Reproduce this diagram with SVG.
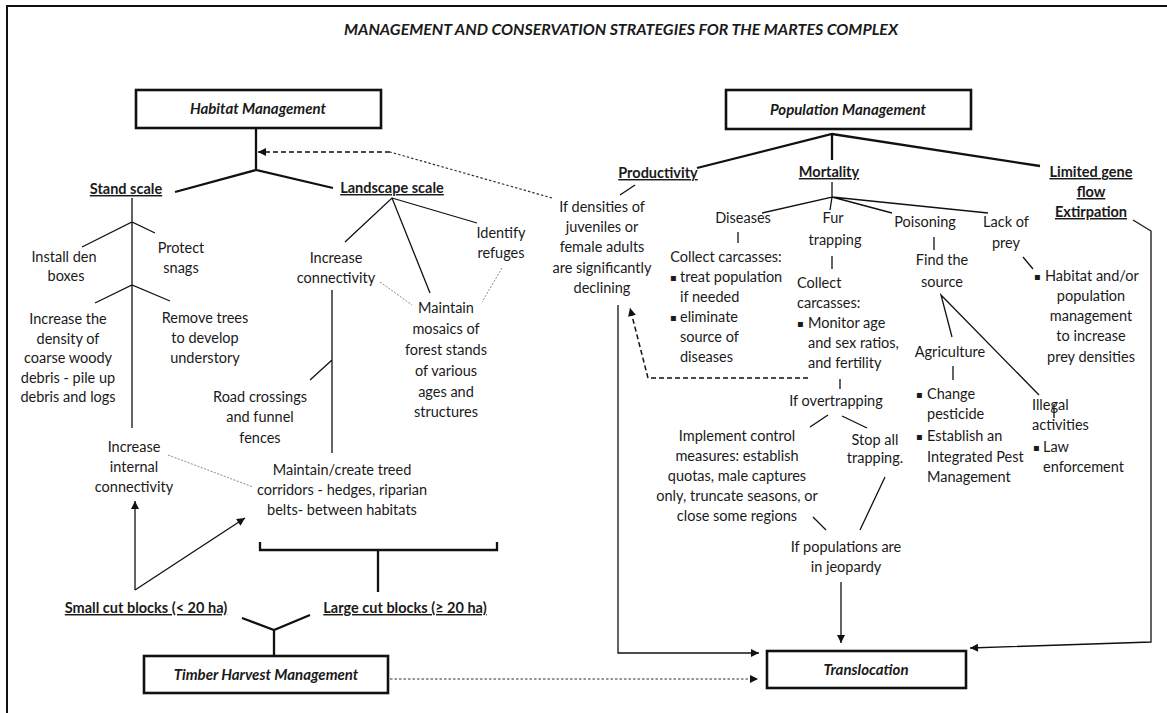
<svg xmlns="http://www.w3.org/2000/svg" width="1167" height="713" viewBox="0 0 1167 713">
  <style>
    text { font-family: Lato, "Liberation Sans", sans-serif; font-size: 14.5px; fill: #1a1a1a; }
    .c { text-anchor: middle; }
    .h { font-weight: bold; text-decoration: underline; }
    .bl { font-family: "DejaVu Sans", sans-serif; font-size: 10px; }
    .bx { font-weight: bold; font-style: italic; font-size: 15px; text-anchor: middle; }
    .title { font-weight: bold; font-style: italic; font-size: 16px; text-anchor: middle; }
    .box { fill: #fff; stroke: #111; stroke-width: 2.6; }
    .ln { stroke: #111; stroke-width: 1.3; fill: none; }
    .tk { stroke: #111; stroke-width: 2.3; fill: none; }
    .dot { stroke: #8a8a8a; stroke-width: 1; stroke-dasharray: 2 1.5; fill: none; }
    .dash { stroke: #111; stroke-width: 1.5; stroke-dasharray: 5 3; fill: none; }
    .fine { stroke: #333; stroke-width: 1.2; stroke-dasharray: 2.5 2; fill: none; }
  </style>
  <defs>
    <marker id="arr" viewBox="0 0 10 10" refX="10" refY="5" markerWidth="9" markerHeight="8" markerUnits="userSpaceOnUse" orient="auto">
      <path d="M0,0 L10,5 L0,10 z" fill="#111"/>
    </marker>
  </defs>

  <rect width="1167" height="713" fill="#fff"/>
  <!-- frame -->
  <path d="M7,713 L7,6 L1167,6" fill="none" stroke="#111" stroke-width="2"/>

  <text class="title" x="621" y="35" textLength="554" lengthAdjust="spacingAndGlyphs">MANAGEMENT AND CONSERVATION STRATEGIES FOR THE MARTES COMPLEX</text>

  <!-- connectors -->
  <g id="connectors">
    <!-- habitat tree -->
    <path class="tk" d="M256,128 L256,170 M175,192 L256,170 L333,188"/>
    <path class="fine" d="M552,198 L390,152"/>
    <path class="dash" d="M390,152 L258,152" marker-end="url(#arr)"/>
    <!-- stand scale -->
    <path class="ln" d="M132,198 L132,428 M82,247 L132,222 L155,233 M95,303 L132,285 L170,301"/>
    <path class="ln" d="M135,590 L135,501" marker-end="url(#arr)"/>
    <path class="ln" d="M135,590 L245,518" marker-end="url(#arr)"/>
    <path class="dot" d="M168,455 L253,487"/>
    <!-- landscape scale -->
    <path class="ln" d="M345,242 L392,198 L430,293 M392,198 L477,223"/>
    <path class="dot" d="M380,282 L412,305 M502,268 L482,302"/>
    <path class="ln" d="M332,290 L332,453 M332,360 L310,380"/>
    <path class="tk" d="M260,542 L260,550 L497,550 L497,542 M378,550 L378,592"/>
    <path class="tk" d="M242,618 L274,630 L310,615 M274,630 L274,656"/>
    <path class="fine" d="M390,679 L758,679" marker-end="url(#arr)"/>
    <!-- population tree -->
    <path class="tk" d="M697,168 L832,134 L1040,166 M832,134 L832,160"/>
    <path class="ln" d="M635,185 L620,195"/>
    <path class="ln" d="M618,305 L618,653 L759,653" marker-end="url(#arr)"/>
    <path class="dash" d="M808,378 L648,378 L630,308" marker-end="url(#arr)"/>
    <path class="ln" d="M832,182 L832,197 M762,213 L832,197 L830,210 M832,197 L892,213 M832,197 L988,213"/>
    <path class="ln" d="M738,232 L738,243 M832,256 L832,269 M840,379 L840,389"/>
    <path class="ln" d="M828,415 L810,427 M842,416 L867,428 M885,477 L860,530 M813,517 L826,530"/>
    <path class="ln" d="M841,582 L841,643" marker-end="url(#arr)"/>
    <path class="ln" d="M934,237 L934,250 M952,337 L941,295 L1039,395 M953,366 L953,380 M1054,404 L1054,418"/>
    <path class="ln" d="M1023,257 L1033,269"/>
    <path class="ln" d="M1133,220 L1151,231 L1151,642 L970,648" marker-end="url(#arr)"/>
  </g>

  <!-- boxes -->
  <g id="habitat-management">
    <rect class="box" x="136" y="90" width="245" height="38"/>
    <text class="bx" x="258" y="114">Habitat Management</text>
  </g>
  <g id="population-management">
    <rect class="box" x="726" y="90" width="245" height="39"/>
    <text class="bx" x="848" y="115">Population Management</text>
  </g>
  <g id="timber-harvest-management">
    <rect class="box" x="144" y="656" width="244" height="37"/>
    <text class="bx" x="266" y="680">Timber Harvest Management</text>
  </g>
  <g id="translocation">
    <rect class="box" x="767" y="651" width="199" height="37"/>
    <text class="bx" x="866" y="675">Translocation</text>
  </g>

  <!-- habitat branch -->
  <g id="stand-scale"><text class="h c" x="126" y="194">Stand scale</text></g>
  <g id="install-den-boxes"><text class="c"><tspan x="64" y="262">Install den</tspan><tspan x="66" y="281">boxes</tspan></text></g>
  <g id="protect-snags"><text class="c"><tspan x="181" y="253">Protect</tspan><tspan x="181" y="273">snags</tspan></text></g>
  <g id="coarse-woody-debris"><text class="c"><tspan x="68" y="324">Increase the</tspan><tspan x="68" y="344">density of</tspan><tspan x="68" y="363">coarse woody</tspan><tspan x="68" y="383">debris - pile up</tspan><tspan x="68" y="402">debris and logs</tspan></text></g>
  <g id="remove-trees"><text class="c"><tspan x="205" y="323">Remove trees</tspan><tspan x="205" y="343">to develop</tspan><tspan x="205" y="363">understory</tspan></text></g>
  <g id="internal-connectivity"><text class="c"><tspan x="134" y="452">Increase</tspan><tspan x="134" y="472">internal</tspan><tspan x="134" y="492">connectivity</tspan></text></g>

  <g id="landscape-scale"><text class="h c" x="392" y="193">Landscape scale</text></g>
  <g id="identify-refuges"><text class="c"><tspan x="501" y="238">Identify</tspan><tspan x="501" y="258">refuges</tspan></text></g>
  <g id="increase-connectivity"><text class="c"><tspan x="336" y="263">Increase</tspan><tspan x="336" y="283">connectivity</tspan></text></g>
  <g id="forest-mosaics"><text class="c"><tspan x="446" y="313">Maintain</tspan><tspan x="446" y="334">mosaics of</tspan><tspan x="446" y="355">forest stands</tspan><tspan x="446" y="376">of various</tspan><tspan x="446" y="397">ages and</tspan><tspan x="446" y="417">structures</tspan></text></g>
  <g id="road-crossings"><text class="c"><tspan x="260" y="402">Road crossings</tspan><tspan x="260" y="422">and funnel</tspan><tspan x="260" y="443">fences</tspan></text></g>
  <g id="treed-corridors"><text class="c"><tspan x="342" y="475">Maintain/create treed</tspan><tspan x="342" y="495">corridors - hedges, riparian</tspan><tspan x="342" y="515">belts- between habitats</tspan></text></g>

  <g id="small-cut-blocks"><text class="h c" x="146" y="613">Small cut blocks (&lt; 20 ha)</text></g>
  <g id="large-cut-blocks"><text class="h c" x="405" y="613">Large cut blocks (≥ 20 ha)</text></g>

  <!-- population branch -->
  <g id="productivity"><text class="h c" x="658" y="178">Productivity</text></g>
  <g id="mortality"><text class="h c" x="829" y="177">Mortality</text></g>
  <g id="gene-flow"><text class="h c"><tspan x="1091" y="177">Limited gene</tspan><tspan x="1091" y="197">flow</tspan><tspan x="1091" y="217">Extirpation</tspan></text></g>

  <g id="declining-densities"><text class="c"><tspan x="602" y="212">If densities of</tspan><tspan x="602" y="232">juveniles or</tspan><tspan x="602" y="252">female adults</tspan><tspan x="602" y="273">are significantly</tspan><tspan x="602" y="293">declining</tspan></text></g>

  <g id="diseases">
    <text class="c" x="743" y="223">Diseases</text>
    <text class="c" x="726" y="262">Collect carcasses:</text>
    <text class="bl" x="670" y="281">▪</text><text class="bl" x="670" y="321">▪</text>
    <text><tspan x="680" y="282">treat population</tspan><tspan x="680" y="302">if needed</tspan><tspan x="680" y="322">eliminate</tspan><tspan x="680" y="342">source of</tspan><tspan x="680" y="362">diseases</tspan></text>
  </g>
  <g id="fur-trapping">
    <text class="c"><tspan x="833" y="223">Fur</tspan><tspan x="835" y="245">trapping</tspan></text>
    <text><tspan x="797" y="288">Collect</tspan><tspan x="797" y="308">carcasses:</tspan></text>
    <text class="bl" x="797" y="327">▪</text>
    <text><tspan x="808" y="328">Monitor age</tspan><tspan x="808" y="348">and sex ratios,</tspan><tspan x="808" y="368">and fertility</tspan></text>
  </g>
  <g id="overtrapping"><text class="c" x="836" y="406">If overtrapping</text></g>
  <g id="control-measures"><text class="c"><tspan x="737" y="441">Implement control</tspan><tspan x="737" y="461">measures: establish</tspan><tspan x="737" y="481">quotas, male captures</tspan><tspan x="737" y="501">only, truncate seasons, or</tspan><tspan x="737" y="521">close some regions</tspan></text></g>
  <g id="stop-trapping"><text class="c"><tspan x="875" y="445">Stop all</tspan><tspan x="875" y="463">trapping.</tspan></text></g>
  <g id="jeopardy"><text class="c"><tspan x="846" y="552">If populations are</tspan><tspan x="846" y="572">in jeopardy</tspan></text></g>

  <g id="poisoning">
    <text class="c" x="925" y="227">Poisoning</text>
    <text class="c"><tspan x="942" y="265">Find the</tspan><tspan x="942" y="287">source</tspan></text>
  </g>
  <g id="agriculture">
    <text class="c" x="950" y="357">Agriculture</text>
    <text class="bl" x="916" y="398">▪</text><text class="bl" x="916" y="440">▪</text>
    <text><tspan x="927" y="399">Change</tspan><tspan x="927" y="419">pesticide</tspan><tspan x="927" y="441">Establish an</tspan><tspan x="927" y="462">Integrated Pest</tspan><tspan x="927" y="482">Management</tspan></text>
  </g>
  <g id="illegal-activities">
    <text><tspan x="1032" y="410">Illegal</tspan><tspan x="1032" y="430">activities</tspan></text>
    <text class="bl" x="1033" y="451">▪</text>
    <text><tspan x="1043" y="452">Law</tspan><tspan x="1043" y="472">enforcement</tspan></text>
  </g>
  <g id="lack-of-prey">
    <text class="c"><tspan x="1006" y="227">Lack of</tspan><tspan x="1006" y="248">prey</tspan></text>
    <text class="bl" x="1034" y="280">▪</text>
    <text x="1045" y="281">Habitat and/or</text>
    <text class="c"><tspan x="1091" y="301">population</tspan><tspan x="1091" y="321">management</tspan><tspan x="1091" y="341">to increase</tspan><tspan x="1091" y="362">prey densities</tspan></text>
  </g>
</svg>
